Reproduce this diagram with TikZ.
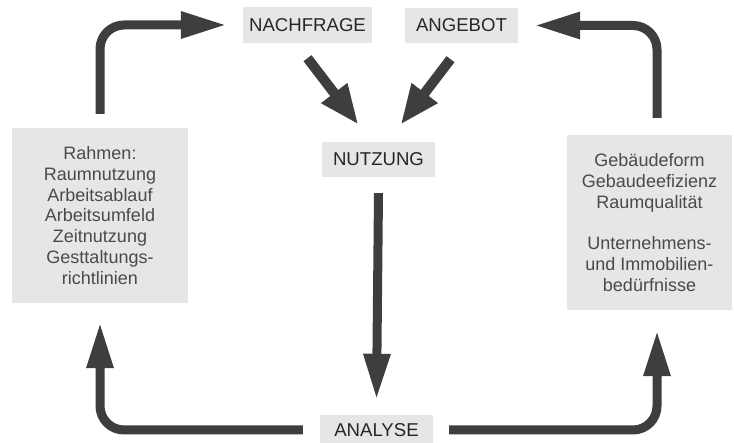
\documentclass[tikz,border=0pt]{standalone}
\usepackage{fontspec}
\setmainfont{Liberation Sans}
\usetikzlibrary{arrows.meta}
\definecolor{boxgray}{HTML}{E6E6E6}
\definecolor{arrgray}{HTML}{3E3E3E}
\definecolor{txtgray}{HTML}{4A4A4A}
\definecolor{capgray}{HTML}{262626}
\tikzset{
  capbox/.style={fill=boxgray, text=capgray, inner sep=0pt, font=\fontsize{18.6}{20}\selectfont},
  listbox/.style={fill=boxgray, text=txtgray, inner sep=0pt, align=center, font=\fontsize{18}{20.7}\selectfont},
  bigarr/.style={draw=arrgray, line width=9pt, rounded corners=24pt, -{Triangle[length=46pt,width=25pt]}},
  diagarr/.style={draw=arrgray, line width=10pt, -{Triangle[length=40pt,width=30pt]}}
}
\begin{document}
\begin{tikzpicture}[x=1pt,y=-1pt]
\useasboundingbox (0,0) rectangle (734,443);
\node[capbox, minimum width=129pt, minimum height=36pt] (nach) at (307.5,25) {NACHFRAGE};
\node[capbox, minimum width=113pt, minimum height=35pt] (ang) at (461.5,25.5) {ANGEBOT};
\node[capbox, minimum width=113pt, minimum height=35pt] (nut) at (378.5,159.5) {NUTZUNG};
\node[capbox, minimum width=113pt, minimum height=30pt] (ana) at (376.5,430) {ANALYSE};
\node[listbox, minimum width=176pt, minimum height=175pt] (lbox) at (100,215.5)
  {Rahmen:\\Raumnutzung\\Arbeitsablauf\\Arbeitsumfeld\\Zeitnutzung\\Gesttaltungs-\\richtlinien};
\node[listbox, minimum width=165pt, minimum height=175pt] (rbox) at (649.5,222.5)
  {Gebäudeform\\Gebaudeefizienz\\Raumqualität\\[20.7pt]Unternehmens-\\und Immobilien-\\bedürfnisse};
% loop arrows
\draw[bigarr] ([yshift=14pt]lbox.north) |- ([xshift=-16pt]nach.west);
\draw[bigarr] ([xshift=7.5pt,yshift=17pt]rbox.north) |- ([xshift=16pt]ang.east);
\draw[bigarr] ([xshift=-17pt]ana.west) -| ([yshift=-19pt]lbox.south);
\draw[bigarr] ([xshift=16pt]ana.east) -| ([xshift=7.5pt,yshift=-20pt]rbox.south);
% centre arrow
\draw[bigarr] ([yshift=-16pt]nut.south) -- ([yshift=15pt]ana.north);
% diagonal arrows
\draw[diagarr] ([yshift=-15pt]nach.south) -- ([xshift=-20pt,yshift=17pt]nut.north);
\draw[diagarr] ([xshift=-11pt,yshift=-16pt]ang.south) -- ([xshift=22pt,yshift=17pt]nut.north);
\end{tikzpicture}
\end{document}
